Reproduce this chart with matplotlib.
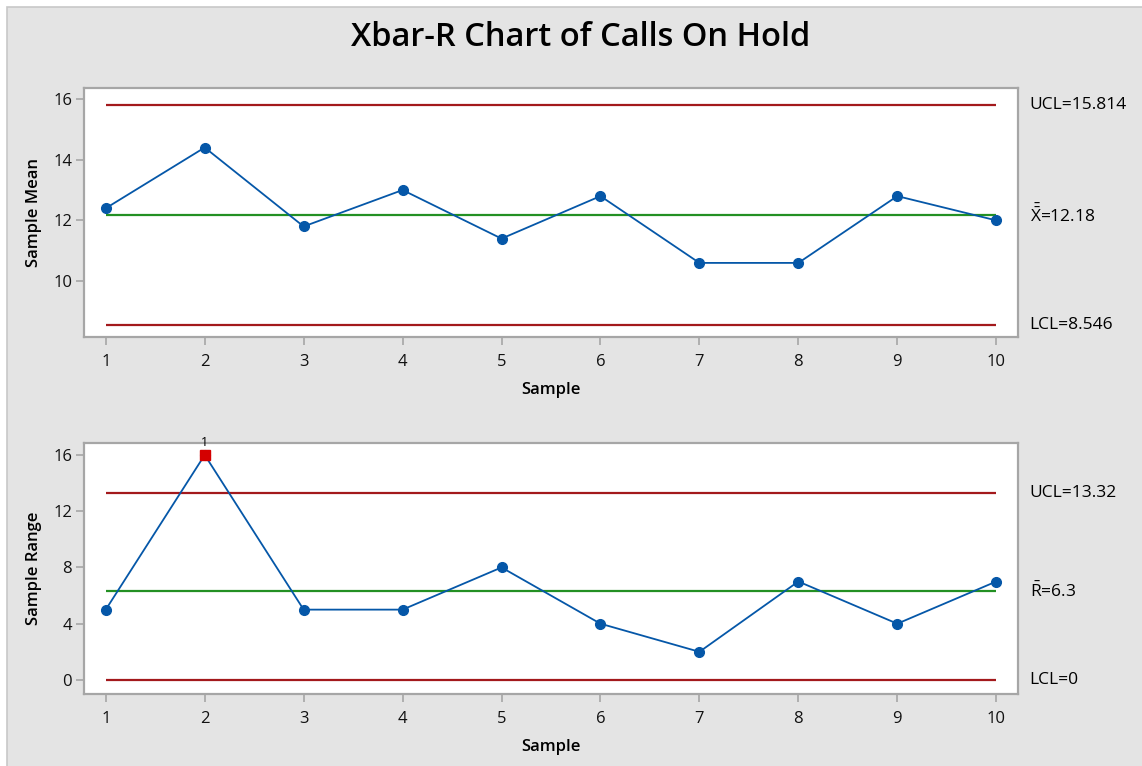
import matplotlib.pyplot as plt
from matplotlib.patches import Rectangle
from matplotlib.transforms import blended_transform_factory

plt.rcParams['font.family'] = ['Open Sans', 'DejaVu Sans']
plt.rcParams['mathtext.fontset'] = 'custom'
plt.rcParams['mathtext.rm'] = 'Open Sans'
plt.rcParams['mathtext.it'] = 'Open Sans'
plt.rcParams['mathtext.default'] = 'regular'

# subgroup data, n=5
samples = [1, 2, 3, 4, 5, 6, 7, 8, 9, 10]
means = [12.4, 14.4, 11.8, 13.0, 11.4, 12.8, 10.6, 10.6, 12.8, 12.0]
ranges = [5, 16, 5, 5, 8, 4, 2, 7, 4, 7]

xbar_center = 12.18
xbar_ucl = 15.814
xbar_lcl = 8.546
r_center = 6.3
r_ucl = 13.32
r_lcl = 0
r_flagged = [2]  # test 1 failures

BLUE = '#0557a8'
RED = '#a3191c'
GREEN = '#239023'
SPINE = '#a6a6a6'
LABEL_FS = 12.5

fig = plt.figure(figsize=(11.42, 7.66), dpi=100)
fig.patch.set_facecolor('white')
fig.patches.append(Rectangle((7 / 1142, -0.05), 1.2, 1 - 7 / 766 + 0.05,
                             transform=fig.transFigure, facecolor='#e4e4e4',
                             edgecolor='#c8c8c8', linewidth=1.2, zorder=-10))

ax1 = fig.add_axes([84 / 1142, 1 - 337 / 766, 934 / 1142, 249 / 766])
ax2 = fig.add_axes([84 / 1142, 1 - 694 / 766, 934 / 1142, 251 / 766])


def style(ax):
    ax.set_facecolor('white')
    for s in ax.spines.values():
        s.set_color(SPINE)
        s.set_linewidth(1.6)
    ax.tick_params(colors=SPINE, labelcolor='#111111', labelsize=12,
                   length=6, width=1.2, direction='out')
    ax.tick_params(axis='x', pad=6)
    ax.tick_params(axis='y', pad=2.5)
    ax.set_xlim(0.78, 10.22)
    ax.set_xticks(samples)
    ax.set_xlabel('Sample', fontsize=12, fontweight='semibold', labelpad=9)


def limits(ax, ucl, cl, lcl):
    ax.hlines([ucl, lcl], 1, 10, colors=RED, linewidth=1.6, zorder=2)
    ax.hlines(cl, 1, 10, colors=GREEN, linewidth=1.6, zorder=2)


def limit_labels(ax, rows):
    tr = blended_transform_factory(ax.transAxes, ax.transData)
    for y, txt in rows:
        ax.text(1.0125, y, txt, transform=tr, fontsize=LABEL_FS,
                va='center', ha='left')


# Xbar chart
style(ax1)
ax1.set_ylim(8.16, 16.36)
ax1.set_yticks([10, 12, 14, 16])
ax1.set_ylabel('Sample Mean', fontsize=12, fontweight='semibold', labelpad=8)
limits(ax1, xbar_ucl, xbar_center, xbar_lcl)
ax1.plot(samples, means, color=BLUE, linewidth=1.3, marker='o',
         markersize=7, zorder=3)
limit_labels(ax1, [
    (xbar_ucl, f'UCL={xbar_ucl:.3f}'),
    (xbar_center, r'$\bar{\bar{\mathrm{X}}}$' + f'={xbar_center:.2f}'),
    (xbar_lcl, f'LCL={xbar_lcl:.3f}'),
])

# R chart
style(ax2)
ax2.set_ylim(-1.0, 16.85)
ax2.set_yticks([0, 4, 8, 12, 16])
ax2.set_ylabel('Sample Range', fontsize=12, fontweight='semibold', labelpad=8)
limits(ax2, r_ucl, r_center, r_lcl)
ax2.plot(samples, ranges, color=BLUE, linewidth=1.3, marker='o',
         markersize=7, zorder=3)
for s in r_flagged:
    ax2.plot(s, ranges[s - 1], marker='s', color='#d40000', markersize=7,
             linestyle='none', zorder=4)
    ax2.annotate('1', (s, ranges[s - 1]), xytext=(0, 9),
                 textcoords='offset points', ha='center', va='center',
                 fontsize=9)
limit_labels(ax2, [
    (r_ucl, f'UCL={r_ucl:.2f}'),
    (r_center, r'$\bar{\mathrm{R}}$' + f'={r_center:g}'),
    (r_lcl, f'LCL={r_lcl:g}'),
])

fig.suptitle('Xbar-R Chart of Calls On Hold', y=1 - 38 / 766, va='center',
             fontsize=23.5, fontweight='semibold', x=581 / 1142)

plt.savefig('out.png', dpi=100, facecolor=fig.get_facecolor())
